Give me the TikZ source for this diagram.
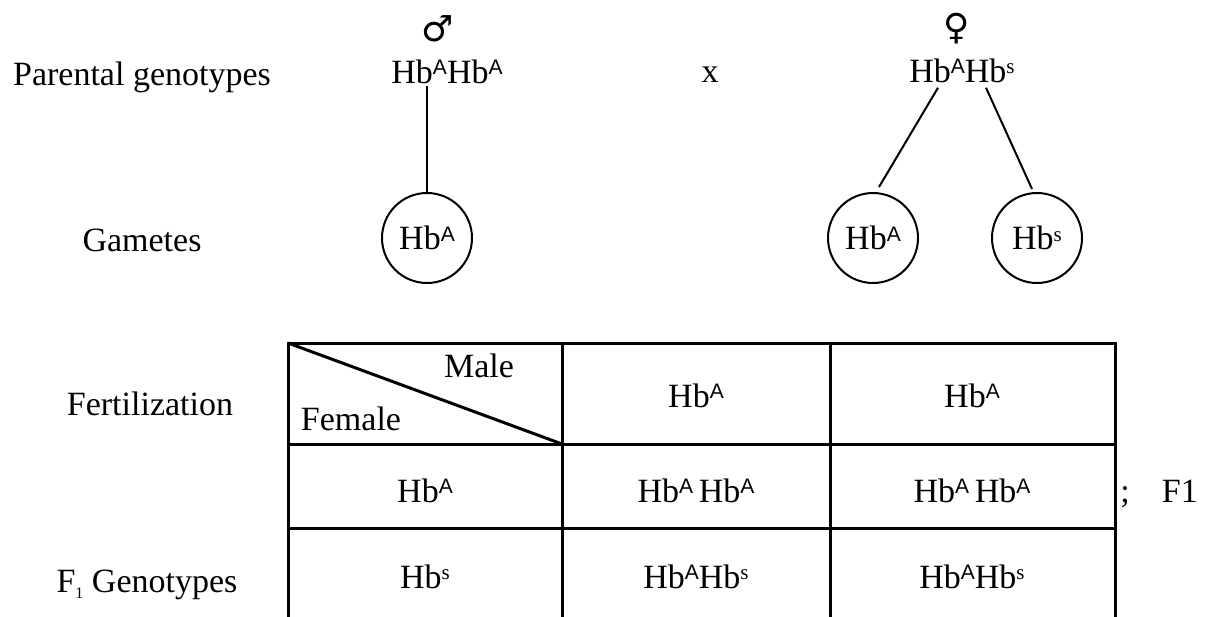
\documentclass[tikz,border=0pt]{standalone}
\usepackage{fontspec}
\setmainfont{Liberation Serif}
\newfontfamily\supfont{Liberation Sans}
\newfontfamily\symfont{DejaVu Sans}
\usetikzlibrary{calc}

\newcommand{\supA}{\raisebox{4.3pt}{\fontsize{10.5}{10}\selectfont\supfont A}}
\newcommand{\supS}{\raisebox{4.3pt}{\fontsize{10.5}{10}\selectfont s}}
\newcommand{\HbA}{Hb\supA}
\newcommand{\HbS}{Hb\supS}

\tikzset{
  txt/.style={anchor=base, inner sep=0pt, font=\fontsize{17}{20}\selectfont},
  sexsym/.style={inner sep=0pt, font=\symfont\fontsize{18}{18}\selectfont},
  gamete/.style={draw, circle, line width=1pt, minimum size=45pt, inner sep=0pt, font=\fontsize{17}{20}\selectfont},
  link/.style={line width=1pt},
  tabline/.style={line width=1.5pt}
}

\begin{document}
\begin{tikzpicture}[x=0.5pt,y=-0.5pt]
\useasboundingbox (0,0) rectangle (1209,616);

		% row labels
		\node[txt] (parlab) at (142,85) {Parental genotypes};
		\node[txt] (gamlab) at (142,251) {Gametes};
		\node[txt] (ferlab) at (150,415) {Fertilization};
		\node[txt] (f1lab) at (147,592) {F\raisebox{-3pt}{\fontsize{8}{8}\selectfont 1} Genotypes};

		% parents
		\node[sexsym] (msym) at (438,29) {♂};
		\node[sexsym] (fsym) at (957,29) {♀};
		\node[txt] (mgeno) at (447,83) {\HbA\HbA};
		\node[txt] (cross) at (710,82) {x};
		\node[txt] (fgeno) at (962,82) {\HbA\HbS};

		% gametes
		\node[gamete] (mg) at (427,238) {\HbA};
		\node[gamete] (fg1) at (873,238) {\HbA};
		\node[gamete] (fg2) at (1037,238) {\HbS};

		\draw[link] ([yshift=-1pt]mg.north |- mgeno.south) -- (mg.north);
		\draw[link] ($(fgeno.south)+(-24,5)$) -- ([shift={(6,-5)}]fg1.north);
		\draw[link] ($(fgeno.south)+(24,5)$) -- ([shift={(-5,-3)}]fg2.north);

		% punnett table
		\draw[tabline] (288,343) rectangle (1115,630);
		\draw[tabline] (288,444) -- (1115,444);
		\draw[tabline] (288,528) -- (1115,528);
		\draw[tabline] (562,343) -- (562,630);
		\draw[tabline] (830,343) -- (830,630);
		\draw[tabline] (288,343) -- (562,444);

		\node[txt] (malehd) at (479,377) {Male};
		\node[txt] (femalehd) at (351,430) {Female};
		\node[txt] (c12) at (696,407) {\HbA};
		\node[txt] (c13) at (972,407) {\HbA};
		\node[txt] (c21) at (425,502) {\HbA};
		\node[txt] (c22) at (696,502) {\HbA\,\HbA};
		\node[txt] (c23) at (972,502) {\HbA\,\HbA};
		\node[txt] (c31) at (425,588) {\HbS};
		\node[txt] (c32) at (696,588) {\HbA\HbS};
		\node[txt] (c33) at (972,588) {\HbA\HbS};

		\node[txt, anchor=base west] (f1note) at (1120,502) {;\hspace{16pt}F1};

\end{tikzpicture}
\end{document}
